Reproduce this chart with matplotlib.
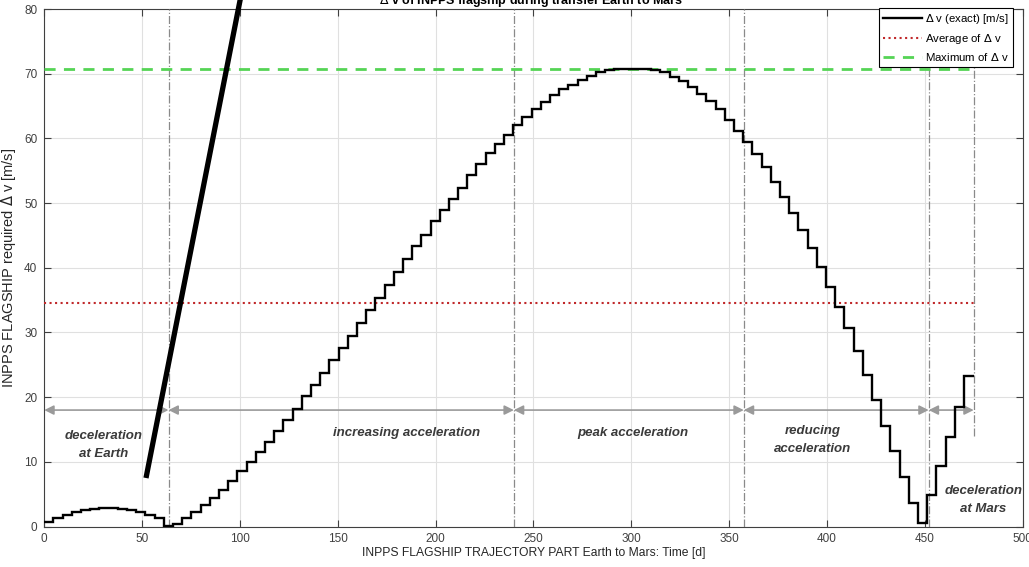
import numpy as np
import matplotlib
matplotlib.use("Agg")
import matplotlib.pyplot as plt

plt.rcParams['font.family'] = ['Liberation Sans', 'DejaVu Sans']

# Δv per time step (one step every 4.7 days, last step ends at day 475)
step_days = 4.7
end_day = 475
dv = [0.7, 1.3, 1.8, 2.2, 2.5, 2.75, 2.9, 2.9, 2.75, 2.5,
      2.2, 1.8, 1.3, 0.15, 0.35, 1.3, 2.2, 3.25, 4.4, 5.7,
      7.1, 8.6, 10.0, 11.5, 13.0, 14.7, 16.4, 18.2, 20.1, 21.9,
      23.8, 25.7, 27.6, 29.5, 31.5, 33.4, 35.3, 37.4, 39.3, 41.3,
      43.3, 45.1, 47.2, 49.0, 50.7, 52.4, 54.3, 56.0, 57.7, 59.2,
      60.6, 62.0, 63.3, 64.6, 65.6, 66.7, 67.6, 68.3, 69.1, 69.7,
      70.2, 70.6, 70.8, 70.8, 70.8, 70.7, 70.6, 70.2, 69.5, 68.8,
      68.0, 66.9, 65.8, 64.5, 62.9, 61.2, 59.5, 57.6, 55.5, 53.3,
      50.9, 48.4, 45.8, 43.0, 40.1, 37.1, 34.0, 30.7, 27.2, 23.5,
      19.6, 15.6, 11.7, 7.6, 3.6, 0.5, 4.8, 9.3, 13.8, 18.4,
      23.3]
dv_mean = 34.6
dv_max = 70.8

# phase boundaries [d] and labels
phase_bounds = [0, 63.5, 240, 357.5, 452, 475]
phase_labels = ['deceleration\nat Earth', 'increasing acceleration',
                'peak acceleration', 'reducing\nacceleration',
                'deceleration\nat Mars']
label_x = [30.5, 185, 301, 392.5, 480]
label_y = [12.6, 14.5, 14.5, 13.4, 4.1]

edges = np.append(np.arange(len(dv)) * step_days, end_day)

fig = plt.figure(figsize=(10.29, 5.67), dpi=100)
ax = fig.add_axes([0.043, 0.0714, 0.9508, 0.9127])

txt = '#404040'
ax.grid(True, color='#e0e0e0', lw=0.8)
ax.set_axisbelow(True)

ax.stairs(dv, edges, baseline=None, color='black', lw=1.7,
          label=r'$\Delta$ v (exact) [m/s]', zorder=5)
ax.plot([0, end_day], [dv_mean, dv_mean], ls=':', color='#c0282a', lw=1.5,
        label=r'Average of $\Delta$ v', zorder=4)
ax.plot([0, end_day], [dv_max, dv_max], ls='--', color='#55d455', lw=2.0,
        dashes=(4, 3), label=r'Maximum of $\Delta$ v', zorder=4)

# phase separators
for xb in phase_bounds[1:5]:
    ax.plot([xb, xb], [0, 80], ls='-.', color='#8a8a8a', lw=0.9, zorder=3)
ax.plot([475, 475], [14, 71], ls='-.', color='#8a8a8a', lw=0.9, zorder=3)

# phase arrows
for a, b in zip(phase_bounds[:-1], phase_bounds[1:]):
    ax.annotate('', xy=(a, 18), xytext=(b, 18),
                arrowprops=dict(arrowstyle='<|-|>', color='#9a9a9a', lw=1.2,
                                mutation_scale=14, shrinkA=0, shrinkB=0))
for lx, ly, s in zip(label_x, label_y, phase_labels):
    ax.text(lx, ly, s, ha='center', va='center', fontsize=9.5,
            style='italic', fontweight='bold', color='#3a3a3a',
            linespacing=1.7, zorder=6)

# hand-drawn pointer line
ax.plot([52, 100.5], [7.5, 82], color='black', lw=3.8, clip_on=False,
        solid_capstyle='butt', zorder=7)

ax.set_xlim(0, 500)
ax.set_ylim(0, 80)
ax.set_xticks(np.arange(0, 501, 50))
ax.set_yticks(np.arange(0, 81, 10))
ax.tick_params(direction='in', top=True, right=True, labelsize=8.5,
               colors=txt, length=5, pad=5)
for sp in ax.spines.values():
    sp.set_color(txt)
    sp.set_linewidth(0.8)

ax.set_xlabel('INPPS FLAGSHIP TRAJECTORY PART Earth to Mars: Time [d]',
              fontsize=8.7, color='#262626', labelpad=1)
ax.set_ylabel(r'INPPS FLAGSHIP required $\Delta$ v [m/s]', fontsize=10.5,
              color='#262626', labelpad=4)
fig.text(0.516, 0.998, r'$\Delta$ v of INPPS flagship during transfer Earth to Mars',
         ha='center', va='center', fontsize=9, fontweight='bold')

leg = ax.legend(loc='upper right', bbox_to_anchor=(0.990, 1.002),
                borderaxespad=0, fontsize=8.2, frameon=True, fancybox=False,
                handlelength=3.4, handletextpad=0.3, borderpad=0.35,
                labelspacing=0.5, edgecolor='black', framealpha=1)
leg.get_frame().set_linewidth(0.8)
leg.set_zorder(8)

plt.savefig('out.png', dpi=100)
